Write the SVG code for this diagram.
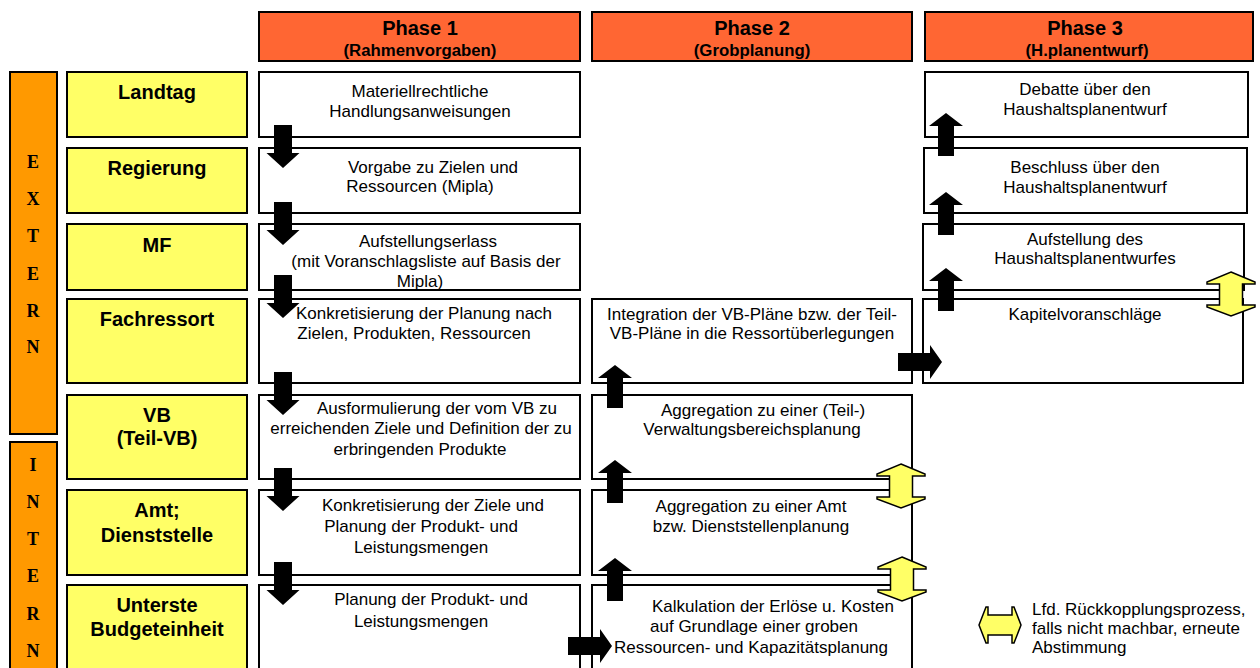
<svg xmlns="http://www.w3.org/2000/svg" xmlns:xlink="http://www.w3.org/1999/xlink" width="1260" height="668" viewBox="0 0 1260 668">
  <style>
    .hdr { fill: #FF6633; stroke: #000; stroke-width: 2; }
    .side { fill: #FF9900; stroke: #000; stroke-width: 2; }
    .actor { fill: #FFFF66; stroke: #000; stroke-width: 2; }
    .step { fill: #FFFFFF; stroke: #000; stroke-width: 2; }
    .bold { font-family: "Liberation Sans", Arial, sans-serif; font-weight: bold; fill: #000; text-anchor: middle; }
    .body { font-family: "Liberation Sans", Arial, sans-serif; font-size: 17px; fill: #000; text-anchor: middle; }
    .letter { font-family: "Liberation Serif", "Times New Roman", serif; font-weight: bold; font-size: 18px; fill: #000; text-anchor: middle; }
    .legend { font-family: "Liberation Sans", Arial, sans-serif; font-size: 17px; fill: #000; }
    .flow { fill: #000; }
    .loop { fill: #FFFF66; stroke: #000; stroke-width: 1.5; stroke-linejoin: miter; }
  </style>
  <defs>
    <path id="arrDown" d="M-9,0 H9 V28 H16.5 L0,43 L-16.5,28 H-9 Z"/>
    <path id="arrUp" d="M0,0 L17,13 H8 V43 H-8 V13 H-17 Z"/>
    <path id="arrRight" d="M0,-9 H32 V-17 L44,0 L32,17 V9 H0 Z"/>
    <path id="loopV" d="M0,0 L24,10 V12 H11.5 V33 H24 V35 L0,44 L-24,35 V33 H-11.5 V12 H-24 V10 Z"/>
  </defs>

  <rect width="1260" height="668" fill="#FFFFFF"/>

  <!-- phase headers -->
  <g id="phase1">
    <rect class="hdr" x="259" y="12" width="321" height="49"/>
    <text class="bold" x="420" y="35" font-size="20">Phase 1</text>
    <text class="bold" x="420" y="56" font-size="16.8">(Rahmenvorgaben)</text>
  </g>
  <g id="phase2">
    <rect class="hdr" x="592" y="12" width="320" height="49"/>
    <text class="bold" x="752" y="35" font-size="20">Phase 2</text>
    <text class="bold" x="752" y="56" font-size="16.8">(Grobplanung)</text>
  </g>
  <g id="phase3">
    <rect class="hdr" x="925" y="12" width="328" height="49"/>
    <text class="bold" x="1085" y="35" font-size="20">Phase 3</text>
    <text class="bold" x="1087" y="56" font-size="16.8">(H.planentwurf)</text>
  </g>

  <!-- external / internal bars -->
  <g id="extern">
    <rect class="side" x="10" y="72" width="47" height="362"/>
    <text class="letter" x="33" y="168">E</text>
    <text class="letter" x="33" y="205">X</text>
    <text class="letter" x="33" y="242">T</text>
    <text class="letter" x="33" y="280">E</text>
    <text class="letter" x="33" y="317">R</text>
    <text class="letter" x="33" y="353">N</text>
  </g>
  <g id="intern">
    <rect class="side" x="10" y="442" width="47" height="240"/>
    <text class="letter" x="33" y="471">I</text>
    <text class="letter" x="33" y="508">N</text>
    <text class="letter" x="33" y="545">T</text>
    <text class="letter" x="33" y="582">E</text>
    <text class="letter" x="33" y="620">R</text>
    <text class="letter" x="33" y="657">N</text>
  </g>

  <!-- actors -->
  <g id="landtag">
    <rect class="actor" x="67" y="72" width="180" height="65"/>
    <text class="bold" x="157" y="99" font-size="20">Landtag</text>
  </g>
  <g id="regierung">
    <rect class="actor" x="67" y="148" width="180" height="65"/>
    <text class="bold" x="157" y="175" font-size="20">Regierung</text>
  </g>
  <g id="mf">
    <rect class="actor" x="67" y="224" width="180" height="66"/>
    <text class="bold" x="157" y="252" font-size="20">MF</text>
  </g>
  <g id="fachressort">
    <rect class="actor" x="67" y="299" width="180" height="84"/>
    <text class="bold" x="157" y="326" font-size="20">Fachressort</text>
  </g>
  <g id="vb">
    <rect class="actor" x="67" y="395" width="180" height="84"/>
    <text class="bold" x="157" y="422" font-size="20">VB</text>
    <text class="bold" x="157" y="445" font-size="20">(Teil-VB)</text>
  </g>
  <g id="amt">
    <rect class="actor" x="67" y="490" width="180" height="85"/>
    <text class="bold" x="157" y="517" font-size="20">Amt;</text>
    <text class="bold" x="157" y="542" font-size="20">Dienststelle</text>
  </g>
  <g id="unterste">
    <rect class="actor" x="67" y="585" width="180" height="100"/>
    <text class="bold" x="157" y="612" font-size="20">Unterste</text>
    <text class="bold" x="157" y="636" font-size="20">Budgeteinheit</text>
  </g>

  <!-- phase 1 steps -->
  <g id="p1-landtag">
    <rect class="step" x="259" y="72" width="321" height="65"/>
    <text class="body" x="420" y="97">Materiellrechtliche</text>
    <text class="body" x="420" y="117">Handlungsanweisungen</text>
  </g>
  <g id="p1-regierung">
    <rect class="step" x="259" y="148" width="321" height="65"/>
    <text class="body" x="433" y="173">Vorgabe zu Zielen und</text>
    <text class="body" x="420" y="192">Ressourcen (Mipla)</text>
  </g>
  <g id="p1-mf">
    <rect class="step" x="259" y="224" width="321" height="66"/>
    <text class="body" x="428" y="247">Aufstellungserlass</text>
    <text class="body" x="426" y="267">(mit Voranschlagsliste auf Basis der</text>
    <text class="body" x="420" y="287">Mipla)</text>
  </g>
  <g id="p1-fachressort">
    <rect class="step" x="259" y="299" width="321" height="84"/>
    <text class="body" x="424" y="319">Konkretisierung der Planung nach</text>
    <text class="body" x="414" y="339">Zielen, Produkten, Ressourcen</text>
  </g>
  <g id="p1-vb">
    <rect class="step" x="259" y="395" width="321" height="84"/>
    <text class="body" x="437" y="414">Ausformulierung der vom VB zu</text>
    <text class="body" x="421" y="434">erreichenden Ziele und Definition der zu</text>
    <text class="body" x="420" y="455">erbringenden Produkte</text>
  </g>
  <g id="p1-amt">
    <rect class="step" x="259" y="490" width="321" height="85"/>
    <text class="body" x="433" y="511">Konkretisierung der Ziele und</text>
    <text class="body" x="421" y="532">Planung der Produkt- und</text>
    <text class="body" x="421" y="553">Leistungsmengen</text>
  </g>
  <g id="p1-unterste">
    <rect class="step" x="259" y="585" width="321" height="100"/>
    <text class="body" x="431" y="605">Planung der Produkt- und</text>
    <text class="body" x="421" y="627">Leistungsmengen</text>
  </g>

  <!-- phase 2 steps -->
  <g id="p2-fachressort">
    <rect class="step" x="592" y="299" width="320" height="84"/>
    <text class="body" x="752" y="320">Integration der VB-Pläne bzw. der Teil-</text>
    <text class="body" x="752" y="339">VB-Pläne in die Ressortüberlegungen</text>
  </g>
  <g id="p2-vb">
    <rect class="step" x="592" y="395" width="320" height="84"/>
    <text class="body" x="763" y="416">Aggregation zu einer (Teil-)</text>
    <text class="body" x="752" y="435">Verwaltungsbereichsplanung</text>
  </g>
  <g id="p2-amt">
    <rect class="step" x="592" y="490" width="320" height="85"/>
    <text class="body" x="751" y="512">Aggregation zu einer Amt</text>
    <text class="body" x="751" y="532">bzw. Dienststellenplanung</text>
  </g>
  <g id="p2-unterste">
    <rect class="step" x="592" y="585" width="320" height="100"/>
    <text class="body" x="773" y="612">Kalkulation der Erlöse u. Kosten</text>
    <text class="body" x="754" y="632">auf Grundlage einer groben</text>
    <text class="body" x="751" y="653">Ressourcen- und Kapazitätsplanung</text>
  </g>

  <!-- phase 3 steps -->
  <g id="p3-landtag">
    <rect class="step" x="925" y="72" width="323" height="65"/>
    <text class="body" x="1085" y="95">Debatte über den</text>
    <text class="body" x="1085" y="115">Haushaltsplanentwurf</text>
  </g>
  <g id="p3-regierung">
    <rect class="step" x="924" y="148" width="323" height="65"/>
    <text class="body" x="1085" y="173">Beschluss über den</text>
    <text class="body" x="1085" y="193">Haushaltsplanentwurf</text>
  </g>
  <g id="p3-mf">
    <rect class="step" x="923" y="224" width="321" height="66"/>
    <text class="body" x="1085" y="245">Aufstellung des</text>
    <text class="body" x="1085" y="264">Haushaltsplanentwurfes</text>
  </g>
  <g id="p3-fachressort">
    <rect class="step" x="923" y="299" width="320" height="84"/>
    <text class="body" x="1085" y="320">Kapitelvoranschläge</text>
  </g>

  <!-- flow arrows and feedback loops -->
  <g id="connectors">
    <use xlink:href="#arrDown" class="flow" x="283" y="125"/>
    <use xlink:href="#arrDown" class="flow" x="283" y="202"/>
    <use xlink:href="#arrDown" class="flow" x="283" y="275"/>
    <use xlink:href="#arrDown" class="flow" x="283" y="372"/>
    <use xlink:href="#arrDown" class="flow" x="283" y="468"/>
    <use xlink:href="#arrDown" class="flow" x="283" y="562"/>

    <use xlink:href="#arrUp" class="flow" x="615" y="365"/>
    <use xlink:href="#arrUp" class="flow" x="615" y="460"/>
    <use xlink:href="#arrUp" class="flow" x="615" y="558"/>

    <use xlink:href="#arrUp" class="flow" x="946" y="113"/>
    <use xlink:href="#arrUp" class="flow" x="946" y="192"/>
    <use xlink:href="#arrUp" class="flow" x="946" y="268"/>

    <use xlink:href="#arrRight" class="flow" x="898" y="362"/>
    <use xlink:href="#arrRight" class="flow" x="568" y="646"/>

    <use xlink:href="#loopV" class="loop" x="1231" y="272"/>
    <use xlink:href="#loopV" class="loop" x="901" y="464"/>
    <use xlink:href="#loopV" class="loop" x="902" y="557"/>
  </g>

  <!-- legend -->
  <g id="legend">
    <path class="loop" d="M979,625 L986,607 H988 V615 H1012 V607 H1014 L1021,625 L1014,643 H1012 V635 H988 V643 H986 Z"/>
    <text class="legend" x="1032" y="615">Lfd. Rückkopplungsprozess,</text>
    <text class="legend" x="1032" y="634">falls nicht machbar, erneute</text>
    <text class="legend" x="1032" y="653">Abstimmung</text>
  </g>
</svg>
